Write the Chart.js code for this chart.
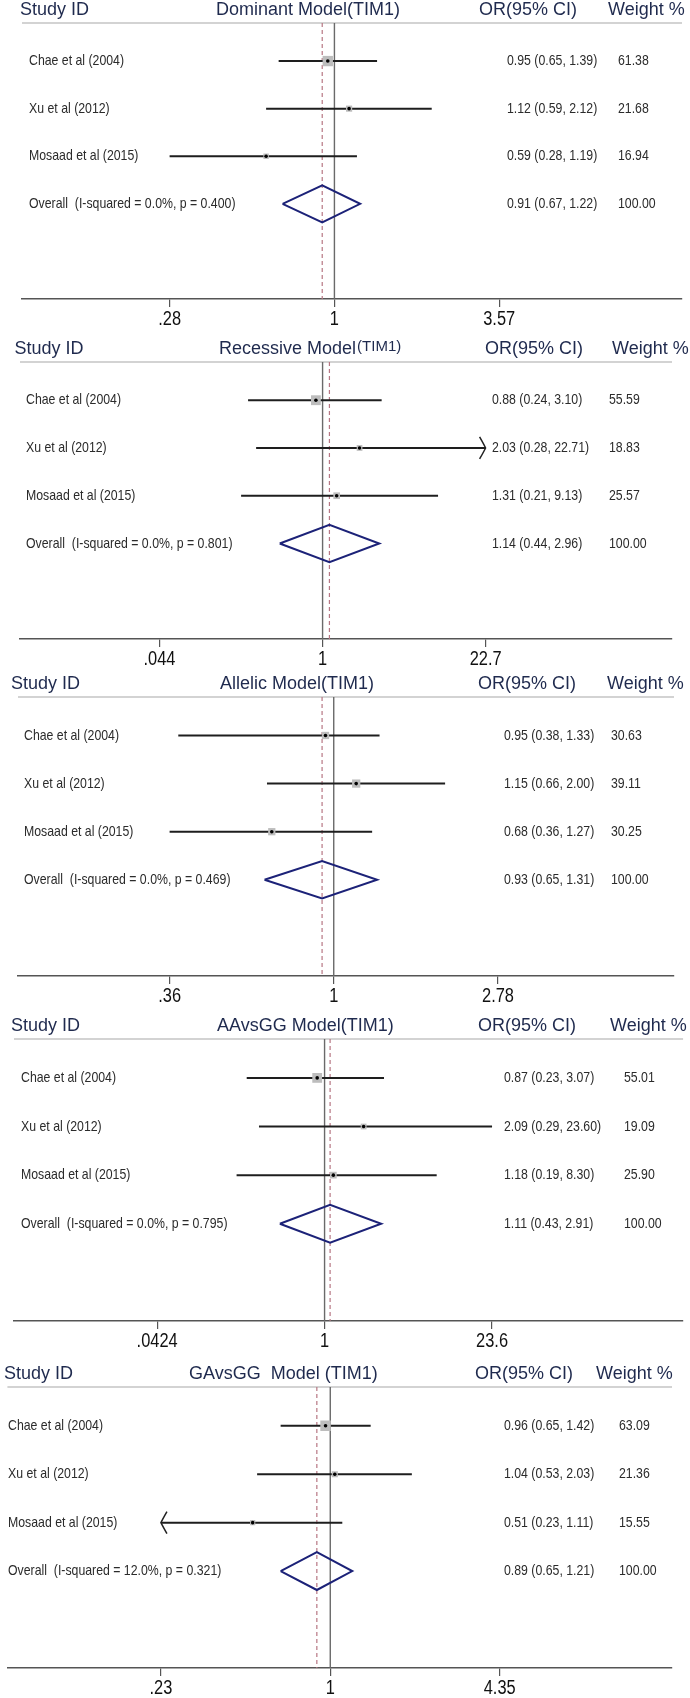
<!DOCTYPE html>
<html>
<head>
<meta charset="utf-8">
<script src="https://cdn.jsdelivr.net/npm/chart.js@4.4.0/dist/chart.umd.min.js"></script>
<style>
    html, body { margin: 0; padding: 0; background: #fff; width: 690px; height: 1698px; overflow: hidden; }
    #page { position: relative; width: 690px; height: 1698px; }
    #page canvas { position: absolute; left: 0; }
</style>
</head>
<body>
<div id="page"></div>
<script>
// === Data ===
const studyLabels = ['Chae et al (2004)', 'Xu et al (2012)', 'Mosaad et al (2015)'];
const modelTitles = ['Dominant Model(TIM1)', 'Recessive Model', 'Allelic Model(TIM1)', 'AAvsGG Model(TIM1)', 'GAvsGG  Model (TIM1)'];
const titleSuffix = ['', '(TIM1)', '', '', ''];

const studyOR     = [[0.95, 1.12, 0.59], [0.88, 2.03, 1.31], [0.95, 1.15, 0.68], [0.87, 2.09, 1.18], [0.96, 1.04, 0.51]];
const studyLower  = [[0.65, 0.59, 0.28], [0.24, 0.28, 0.21], [0.38, 0.66, 0.36], [0.23, 0.29, 0.19], [0.65, 0.53, 0.229]];
const studyUpper  = [[1.39, 2.12, 1.19], [3.10, 22.71, 9.13], [1.33, 2.00, 1.27], [3.07, 23.60, 8.30], [1.42, 2.03, 1.11]];
const studyWeight = [[61.38, 21.68, 16.94], [55.59, 18.83, 25.57], [30.63, 39.11, 30.25], [55.01, 19.09, 25.90], [63.09, 21.36, 15.55]];

const overallOR    = [0.91, 1.14, 0.93, 1.11, 0.89];
const overallLower = [0.67, 0.44, 0.65, 0.43, 0.65];
const overallUpper = [1.22, 2.96, 1.31, 2.91, 1.21];
const iSquared     = [0.0, 0.0, 0.0, 0.0, 12.0];
const pHetero      = [0.400, 0.801, 0.469, 0.795, 0.321];

const tickValues = [[0.28, 1, 3.57], [0.044, 1, 22.7], [0.36, 1, 2.78], [0.0424, 1, 23.6], [0.23, 1, 4.35]];
const tickLabels = [['.28', '1', '3.57'], ['.044', '1', '22.7'], ['.36', '1', '2.78'], ['.0424', '1', '23.6'], ['.23', '1', '4.35']];

// === Layout (pixels on the page) ===
const panelLayout = [
    { top: 0,    gray: 23,   axis: 299,  left: 22, right: 682, loPx: 169.6, hiPx: 499.2, studyX: 20, titleX: 216, orHeadX: 479, wHeadX: 608, labelX: 29, orX: 507, wX: 618 },
    { top: 339,  gray: 362,  axis: 639,  left: 20, right: 672, loPx: 159.5, hiPx: 485.6, studyX: 14.5, titleX: 219, orHeadX: 485, wHeadX: 612, labelX: 26, orX: 492, wX: 609 },
    { top: 674,  gray: 697,  axis: 976,  left: 18, right: 674, loPx: 169.6, hiPx: 498, studyX: 11, titleX: 220, orHeadX: 478, wHeadX: 607, labelX: 24, orX: 504, wX: 611 },
    { top: 1016, gray: 1039, axis: 1321, left: 14, right: 690, loPx: 158.6, hiPx: 497, studyX: 11, titleX: 217, orHeadX: 478, wHeadX: 610, labelX: 21, orX: 504, wX: 624 },
    { top: 1364, gray: 1387, axis: 1668, left: 1,  right: 672, loPx: 156, hiPx: 498, studyX: 4, titleX: 189, orHeadX: 475, wHeadX: 596, labelX: 8, orX: 504, wX: 619 }
];
const AXIS_HEIGHT = 40;
const HEAD_COLOR = '#1f2a4e';
const TEXT_COLOR = '#2b2b2b';
const REGULAR = '"Liberation Sans", Arial, sans-serif';
const NARROW = '"Liberation Sans Narrow", "Arial Narrow", sans-serif';

// is a narrow face really installed? (same width with two different fallbacks)
const probe = document.createElement('canvas').getContext('2d');
function fontInstalled(name) {
    probe.font = `20px "${name}", monospace`;
    const a = probe.measureText('Chae et al (2004)').width;
    probe.font = `20px "${name}", serif`;
    const b = probe.measureText('Chae et al (2004)').width;
    return Math.abs(a - b) < 0.5;
}
const hasNarrow = fontInstalled('Liberation Sans Narrow') || fontInstalled('Arial Narrow');

function narrowText(ctx, text, x, y, size, align) {
    ctx.save();
    ctx.textAlign = align || 'left';
    if (hasNarrow) {
        ctx.font = `${size}px ${NARROW}`;
        ctx.fillText(text, x, y);
    } else {
        // condensed Liberation Sans
        ctx.font = `${size}px ${REGULAR}`;
        ctx.translate(x, y);
        ctx.scale(0.82, 1);
        ctx.fillText(text, 0, 0);
    }
    ctx.restore();
}

function axisRange(i) {
    const L = panelLayout[i], lo = tickValues[i][0], hi = tickValues[i][2];
    const k = (L.hiPx - L.loPx) / Math.log(hi / lo);
    return { min: lo * Math.exp((L.left - L.loPx) / k), max: lo * Math.exp((L.right - L.loPx) / k) };
}

function fmt(v) { return v.toFixed(2); }

function drawArrow(ctx, x, y, dir) {
    ctx.beginPath();
    ctx.moveTo(x - dir * 6, y - 11);
    ctx.quadraticCurveTo(x - dir * 2, y - 4, x, y);
    ctx.quadraticCurveTo(x - dir * 2, y + 4, x - dir * 6, y + 11);
    ctx.stroke();
}

// === Plugin: header, texts, arrows ===
const forestText = {
    id: 'forestText',
    beforeDatasetsDraw(chart) {
        const { ctx, chartArea } = chart;
        ctx.save();
        ctx.strokeStyle = '#d3d3d3';
        ctx.lineWidth = 2;
        ctx.beginPath();
        ctx.moveTo(chartArea.left, chartArea.top);
        ctx.lineTo(chartArea.right, chartArea.top);
        ctx.stroke();
        ctx.restore();
    },
    afterDatasetsDraw(chart) {
        const i = chart.options.plugins.forestText.panel;
        const { ctx } = chart;
        const xs = chart.scales.x, ys = chart.scales.y;
        ctx.save();
        ctx.strokeStyle = '#222';
        ctx.lineWidth = 1.5;
        studyLower[i].forEach((lo, j) => {
            const yPx = ys.getPixelForValue(j + 1);
            if (lo < tickValues[i][0]) drawArrow(ctx, xs.getPixelForValue(tickValues[i][0]), yPx, -1);
            if (studyUpper[i][j] > tickValues[i][2]) drawArrow(ctx, xs.getPixelForValue(tickValues[i][2]), yPx, 1);
        });
        ctx.restore();
    },
    afterDraw(chart) {
        const i = chart.options.plugins.forestText.panel;
        const L = panelLayout[i];
        const { ctx, chartArea } = chart;
        const ys = chart.scales.y, xs = chart.scales.x;

        // header
        const base = chartArea.top - 8.5;
        ctx.save();
        ctx.fillStyle = HEAD_COLOR;
        ctx.textBaseline = 'alphabetic';
        ctx.font = `18px ${REGULAR}`;
        ctx.fillText('Study ID', L.studyX, base);
        ctx.fillText(modelTitles[i], L.titleX, base);
        if (titleSuffix[i]) {
            const w = ctx.measureText(modelTitles[i]).width;
            ctx.font = `15px ${REGULAR}`;
            ctx.fillText(titleSuffix[i], L.titleX + w + 1, base - 3);
            ctx.font = `18px ${REGULAR}`;
        }
        ctx.fillText('OR(95% CI)', L.orHeadX, base);
        ctx.fillText('Weight %', L.wHeadX, base);

        // rows
        ctx.fillStyle = TEXT_COLOR;
        ctx.textBaseline = 'middle';
        studyLabels.forEach((label, j) => {
            const y = ys.getPixelForValue(j + 1);
            narrowText(ctx, label, L.labelX, y, 15);
            narrowText(ctx, `${fmt(studyOR[i][j])} (${fmt(studyLower[i][j])}, ${fmt(studyUpper[i][j])})`, L.orX, y, 15);
            narrowText(ctx, fmt(studyWeight[i][j]), L.wX, y, 15);
        });
        const yo = ys.getPixelForValue(4);
        narrowText(ctx, `Overall  (I-squared = ${iSquared[i].toFixed(1)}%, p = ${pHetero[i].toFixed(3)})`, L.labelX, yo, 15);
        narrowText(ctx, `${fmt(overallOR[i])} (${fmt(overallLower[i])}, ${fmt(overallUpper[i])})`, L.orX, yo, 15);
        narrowText(ctx, '100.00', L.wX, yo, 15);

        // tick labels when no narrow font is installed
        if (!hasNarrow) {
            ctx.fillStyle = '#111';
            ctx.textBaseline = 'top';
            tickValues[i].forEach((v, k) => {
                narrowText(ctx, tickLabels[i][k], xs.getPixelForValue(v), chartArea.bottom + 10, 20, 'center');
            });
        }
        ctx.restore();
    }
};

// === Charts ===
function buildPanel(i) {
    const L = panelLayout[i];
    const canvas = document.createElement('canvas');
    const h = L.axis - L.top + AXIS_HEIGHT;
    canvas.width = 690;
    canvas.height = h;
    canvas.style.top = L.top + 'px';
    canvas.style.width = '690px';
    canvas.style.height = h + 'px';
    document.getElementById('page').appendChild(canvas);

    const range = axisRange(i);
    const tMin = tickValues[i][0], tMax = tickValues[i][2];
    const datasets = [];

    // reference lines
    datasets.push({ type: 'line', data: [{ x: 1, y: 0.2 }, { x: 1, y: 6 }], borderColor: '#6a6a6a', borderWidth: 1.4, pointRadius: 0, order: 6 });
    datasets.push({ type: 'line', data: [{ x: overallOR[i], y: 0.2 }, { x: overallOR[i], y: 6 }], borderColor: '#b77683', borderWidth: 1.2, borderDash: [4, 3], pointRadius: 0, order: 5 });

    // confidence intervals
    studyOR[i].forEach((v, j) => {
        datasets.push({
            type: 'line',
            data: [{ x: Math.max(studyLower[i][j], tMin), y: j + 1 }, { x: Math.min(studyUpper[i][j], tMax), y: j + 1 }],
            borderColor: '#1e1e1e', borderWidth: 2, pointRadius: 0, order: 4
        });
    });

    // weight boxes + point estimates
    datasets.push({
        type: 'scatter',
        data: studyOR[i].map((v, j) => ({ x: v, y: j + 1 })),
        pointStyle: 'rect',
        pointRadius: studyWeight[i].map(w => 1.32 * Math.sqrt(w) / Math.SQRT2),
        backgroundColor: '#bdbdbd', borderWidth: 0, order: 3
    });
    datasets.push({
        type: 'scatter',
        data: studyOR[i].map((v, j) => ({ x: v, y: j + 1 })),
        pointStyle: 'circle', pointRadius: 1.8,
        backgroundColor: '#000', borderWidth: 0, order: 2
    });

    // pooled diamond
    datasets.push({
        type: 'line',
        data: [
            { x: overallLower[i], y: 4 }, { x: overallOR[i], y: 3.61 },
            { x: overallUpper[i], y: 4 }, { x: overallOR[i], y: 4.39 },
            { x: overallLower[i], y: 4 }
        ],
        borderColor: '#1c2278', borderWidth: 2, borderJoinStyle: 'miter',
        fill: false, pointRadius: 0, tension: 0, order: 1
    });

    return new Chart(canvas, {
        type: 'scatter',
        data: { datasets: datasets },
        options: {
            responsive: false,
            animation: false,
            layout: { padding: { top: L.gray - L.top, left: L.left, right: 690 - L.right, bottom: 0 } },
            plugins: { legend: { display: false }, tooltip: { enabled: false }, forestText: { panel: i } },
            scales: {
                x: {
                    type: 'logarithmic',
                    min: range.min, max: range.max,
                    bounds: 'data',
                    afterBuildTicks: scale => { scale.ticks = tickValues[i].map(v => ({ value: v })); },
                    afterFit: scale => { scale.height = AXIS_HEIGHT; },
                    border: { display: true, color: '#555', width: 1.5 },
                    grid: { display: true, drawOnChartArea: false, drawTicks: true, tickLength: 8, color: '#555', lineWidth: 1.2 },
                    ticks: {
                        display: hasNarrow,
                        autoSkip: false, maxRotation: 0, padding: 2,
                        color: '#111',
                        font: { family: NARROW, size: 20 },
                        callback: (value, index) => tickLabels[i][index]
                    }
                },
                y: { type: 'linear', min: 0.2, max: 6, reverse: true, display: false }
            }
        },
        plugins: [forestText]
    });
}

modelTitles.forEach((t, i) => buildPanel(i));
</script>
</body>
</html>
